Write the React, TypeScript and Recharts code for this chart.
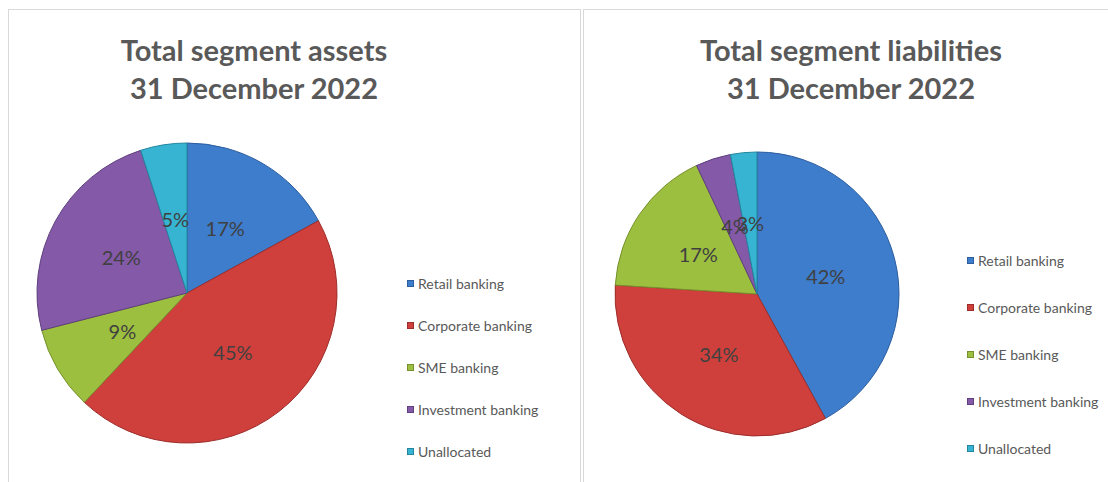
import React from 'react';
import { PieChart, Pie, Cell } from 'recharts';

const segments = ['Retail banking', 'Corporate banking', 'SME banking', 'Investment banking', 'Unallocated'];
const assetShares = [17, 45, 9, 24, 5];
const liabilityShares = [42, 34, 17, 4, 3];
const sliceColors = ['#3e7ccc', '#cf403c', '#9dbf3f', '#8459a8', '#36b4d2'];
const sliceEdges = ['#2c5d9e', '#9c2d2a', '#75902c', '#5f3f7d', '#23869e'];

const FONT = 'Lato, Carlito, "Liberation Sans", sans-serif';
const RAD = Math.PI / 180;

const toRows = (values: number[]) => segments.map((name, i) => ({ name, value: values[i] }));

const renderPct = (props: any) => {
  const { cx, cy, midAngle, outerRadius, value } = props;
  const r = outerRadius * 0.5;
  const x = cx + r * Math.cos(-midAngle * RAD);
  const y = cy + r * Math.sin(-midAngle * RAD);
  return (
    <text x={x} y={y} fill="#404040" fontSize={20} fontFamily={FONT} textAnchor="middle" dominantBaseline="central">
      {`${value}%`}
    </text>
  );
};

interface PanelProps {
  left: number;
  width: number;
  title: string[];
  titleCenter: number;
  values: number[];
  cx: number;
  cy: number;
  radius: number;
  legendLeft: number;
  legendTop: number;
  legendGap: number;
}

const Panel: React.FC<PanelProps> = (p) => (
  <div style={{ position: 'absolute', left: p.left, top: 9, width: p.width, height: 490, border: '1px solid #d9d9d9', background: '#fff' }}>
    <div style={{ position: 'absolute', left: p.titleCenter - 250, width: 500, top: 21, textAlign: 'center', fontFamily: FONT, fontWeight: 'bold', fontSize: 29, lineHeight: '38px', color: '#595959' }}>
      {p.title.map((t, i) => <div key={i}>{t}</div>)}
    </div>
    <div style={{ position: 'absolute', left: 0, top: 0 }}>
      <PieChart width={p.width} height={480} margin={{ top: 0, right: 0, bottom: 0, left: 0 }}>
        <Pie
          data={toRows(p.values)}
          dataKey="value"
          nameKey="name"
          cx={p.cx}
          cy={p.cy}
          outerRadius={p.radius}
          startAngle={90}
          endAngle={-270}
          label={renderPct}
          labelLine={false}
          isAnimationActive={false}
        >
          {p.values.map((_, i) => (
            <Cell key={i} fill={sliceColors[i]} stroke={sliceEdges[i]} strokeWidth={1} />
          ))}
        </Pie>
      </PieChart>
    </div>
    <div style={{ position: 'absolute', left: p.legendLeft, top: p.legendTop, fontFamily: FONT, fontSize: 14, color: '#595959' }}>
      {segments.map((name, i) => (
        <div key={name} style={{ height: p.legendGap, display: 'flex', alignItems: 'center', whiteSpace: 'nowrap' }}>
          <span style={{ width: 7, height: 7, background: sliceColors[i], border: `1px solid ${sliceEdges[i]}`, marginRight: 4, boxSizing: 'border-box' }} />
          {name}
        </div>
      ))}
    </div>
  </div>
);

export default function App() {
  return (
    <div style={{ position: 'absolute', left: 0, top: 0, width: 1108, height: 482, overflow: 'hidden', background: '#fff' }}>
      <Panel
        left={8}
        width={571}
        title={['Total segment assets', '31 December 2022']}
        titleCenter={245}
        values={assetShares}
        cx={178}
        cy={283}
        radius={150}
        legendLeft={398}
        legendTop={252}
        legendGap={42}
      />
      <Panel
        left={583}
        width={540}
        title={['Total segment liabilities', '31 December 2022']}
        titleCenter={267}
        values={liabilityShares}
        cx={173}
        cy={284}
        radius={142}
        legendLeft={383}
        legendTop={227}
        legendGap={47}
      />
    </div>
  );
}
